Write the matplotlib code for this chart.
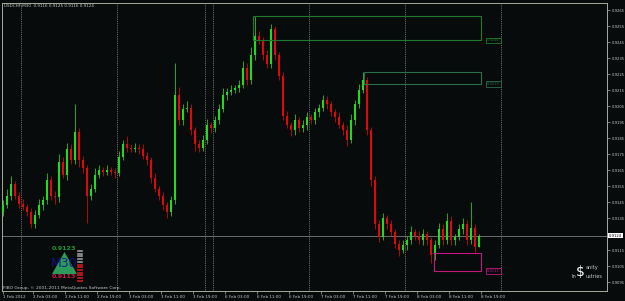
"""USDCHF M30 candle chart, MetaTrader look."""
import numpy as np
import matplotlib
matplotlib.use("Agg")
import matplotlib.pyplot as plt
from matplotlib.patches import Rectangle, Polygon

plt.rcParams.update({"font.family": "DejaVu Sans", "font.size": 3})

W, H = 625, 301
BG = "#070b0b"
BULL = "#1fdc1f"
BEAR = "#e00808"
FRAME = "#a8a8a0"
TXT = "#c8c8c8"
PIP = 0.0001

HEADER = "USDCHF,M30  0.9116 0.9125 0.9116 0.9124"
COPYRIGHT = "FIBO Group, \u00a9 2001-2011 MetaQuotes Software Corp."

# hourly candles (1 Feb 19:00 -> 8 Feb 19:00)
FIRST_OPEN = 0.9139
CLOSES = [
    0.9143, 0.9149, 0.9156, 0.9149, 0.9144, 0.9142, 0.9139, 0.9131, 0.9137, 0.9143,
    0.9146, 0.9159, 0.9149, 0.9148, 0.9170, 0.9162, 0.9178, 0.9171, 0.9189, 0.9171,
    0.9166, 0.9149, 0.9153, 0.9162, 0.9165, 0.9164, 0.9165, 0.9164, 0.9163, 0.9173,
    0.9181, 0.9179, 0.9178, 0.9179, 0.9178, 0.9174, 0.9171, 0.9160, 0.9153, 0.9149,
    0.9143, 0.9139, 0.9146, 0.9212, 0.9196, 0.9203, 0.9204, 0.9190, 0.9181, 0.9179,
    0.9184, 0.9193, 0.9191, 0.9196, 0.9203, 0.9212, 0.9214, 0.9215, 0.9216, 0.9218,
    0.9229, 0.9221, 0.9237, 0.9249, 0.9246, 0.9237, 0.9231, 0.9253, 0.9237, 0.9224,
    0.9199, 0.9193, 0.9190, 0.9196, 0.9191, 0.9193, 0.9198, 0.9196, 0.9201, 0.9204,
    0.9209, 0.9206, 0.9201, 0.9198, 0.9193, 0.9190, 0.9184, 0.9196, 0.9206, 0.9215,
    0.9221, 0.9190, 0.9159, 0.9131, 0.9123, 0.9135, 0.9131, 0.9126, 0.9119, 0.9115,
    0.9118, 0.9121, 0.9126, 0.9124, 0.9121, 0.9125, 0.9121, 0.9112, 0.9118, 0.9128,
    0.9121, 0.9133, 0.9121, 0.9123, 0.9128, 0.9131, 0.9121, 0.9129, 0.9117, 0.9124,
]
WICK_UP = [
    3, 4, 5, 2, 2, 3, 2, 2, 3, 4,
    3, 4, 2, 3, 5, 3, 4, 3, 17, 2,
    3, 2, 3, 4, 3, 2, 3, 2, 2, 4,
    3, 5, 2, 3, 2, 3, 2, 2, 3, 2,
    2, 2, 3, 20, 5, 3, 4, 2, 2, 3,
    3, 4, 2, 3, 3, 4, 2, 3, 2, 3,
    4, 3, 5, 12, 3, 2, 3, 3, 2, 2,
    2, 3, 2, 4, 2, 3, 3, 2, 3, 2,
    3, 2, 2, 2, 3, 2, 3, 4, 3, 4,
    5, 2, 2, 2, 3, 3, 2, 3, 2, 2,
    3, 3, 4, 2, 3, 3, 2, 2, 3, 4,
    3, 5, 3, 2, 3, 4, 3, 16, 2, 1,
]
WICK_DN = [
    3, 2, 3, 2, 3, 2, 3, 2, 2, 2,
    3, 2, 3, 4, 3, 2, 3, 2, 2, 4,
    3, 17, 3, 2, 2, 3, 2, 2, 3, 2,
    2, 3, 2, 2, 3, 2, 3, 3, 2, 3,
    3, 4, 3, 2, 3, 3, 2, 3, 4, 3,
    2, 3, 3, 2, 2, 2, 3, 2, 2, 2,
    2, 3, 2, 3, 2, 3, 2, 2, 3, 3,
    3, 2, 4, 3, 2, 2, 3, 2, 2, 3,
    2, 3, 2, 3, 2, 3, 4, 2, 3, 2,
    2, 3, 4, 3, 3, 2, 3, 2, 3, 4,
    2, 3, 2, 3, 2, 3, 3, 5, 3, 2,
    3, 2, 3, 3, 2, 3, 3, 2, 3, 0,
]

# time axis (bar index = hours from first bar, weekend removed)
TICK_POS = [0, 7.5, 15.5, 23.5, 31.5, 39.5, 47.5, 55.5, 63.5, 71.5, 79.5, 87.5,
            95.5, 103.5, 111.5, 119.5]
TICK_LABELS = ["1 Feb 2012", "2 Feb 03:00", "2 Feb 11:00", "2 Feb 19:00",
               "3 Feb 03:00", "3 Feb 11:00", "3 Feb 19:00", "6 Feb 03:00",
               "6 Feb 11:00", "6 Feb 19:00", "7 Feb 03:00", "7 Feb 11:00",
               "7 Feb 19:00", "8 Feb 03:00", "8 Feb 11:00", "8 Feb 19:00"]
SEPARATORS = [4.5, 28.5, 50.5, 52.5, 76.5, 100.5, 124.5]

# supply / demand boxes
ZONE_START = [62.5, 90.25, 107.75]
ZONE_END = [119.5, 119.5, 119.5]
ZONE_TOP = [0.9261, 0.9226, 0.9113]
ZONE_BOT = [0.9246, 0.9219, 0.9102]
ZONE_LABEL = ["0.9246", "0.9219", "0.9113"]
ZONE_COLOR = ["#1d7a2a", "#2a6e4a", "#c0187c"]

PRICE_TICKS = [0.9095, 0.9105, 0.9115, 0.9135, 0.9145, 0.9155, 0.9165, 0.9175,
               0.9185, 0.9195, 0.9205, 0.9215, 0.9225, 0.9235, 0.9245, 0.9255, 0.9265]

# indicator badge values
BADGE_HI = "0.9123"
BADGE_LO = "0.9113"


def px(x, y):
    return x / W, 1 - y / H


def draw_candles(ax):
    c = np.array(CLOSES)
    o = np.concatenate([[FIRST_OPEN], c[:-1]])
    hi = np.maximum(o, c) + np.array(WICK_UP) * PIP
    lo = np.minimum(o, c) - np.array(WICK_DN) * PIP
    x = np.arange(len(c))
    up = c >= o
    col = np.where(up, BULL, BEAR)
    ax.vlines(x, lo, hi, colors=col, lw=0.55, zorder=3)
    body = np.maximum(np.abs(c - o), 0.4 * PIP)
    ax.bar(x, body, bottom=np.minimum(o, c), width=0.55, color=col, lw=0, zorder=4)


def main():
    fig = plt.figure(figsize=(W / 100, H / 100), dpi=100, facecolor=BG)
    ax = fig.add_axes([2 / W, 10 / H, 605 / W, 288 / H], facecolor=BG)

    for s in SEPARATORS:
        ax.axvline(s, color="#8c8c8c", lw=0.6, ls=(0, (1, 1.2)), zorder=1)

    draw_candles(ax)
    last = CLOSES[-1]
    ax.axhline(last, color="#7c7c7c", lw=0.6, zorder=2)

    for x0, x1, t, b, colr, lab in zip(ZONE_START, ZONE_END, ZONE_TOP, ZONE_BOT,
                                      ZONE_COLOR, ZONE_LABEL):
        ax.add_patch(Rectangle((x0, b), x1 - x0, t - b, fill=False, ec=colr, lw=0.8, zorder=5))
        ax.text(121, b, lab, color=colr, fontsize=2.6, ha="left", va="center", zorder=6,
                bbox=dict(boxstyle="square,pad=0.25", fc=BG, ec=colr, lw=0.6))

    ax.set_xlim(-0.25, 151)
    ax.set_ylim(0.90894, 0.92694)

    ax.yaxis.tick_right()
    ax.set_yticks(PRICE_TICKS)
    ax.set_yticklabels([f"{p:.4f}" for p in PRICE_TICKS])
    ax.tick_params(axis="y", length=2, width=0.5, colors=FRAME, labelcolor=TXT,
                   labelsize=2.7, pad=1.2)
    ax.set_xticks(TICK_POS)
    ax.set_xticklabels(TICK_LABELS)
    ax.tick_params(axis="x", length=2, width=0.5, colors=FRAME, labelcolor=TXT,
                   labelsize=3.0, pad=0.8)
    plt.setp(ax.get_xticklabels(), ha="left")
    for sp in ax.spines.values():
        sp.set_color(FRAME)
        sp.set_linewidth(0.7)

    # current price tag on the scale
    ax.text(1.003, last, f"{last:.4f}", transform=ax.get_yaxis_transform(),
            fontsize=2.7, color="black", ha="left", va="center",
            bbox=dict(boxstyle="square,pad=0.2", fc="white", ec="white", lw=0))

    fig.text(*px(4, 6), HEADER, color=TXT, fontsize=3.0, ha="left", va="center")
    fig.text(*px(3, 288), COPYRIGHT, color=TXT, fontsize=3.2, ha="left", va="center")

    # indicator badge
    fig.patches.append(Polygon([px(52, 274), px(77, 274), px(64.5, 252)], closed=True,
                               fc="#2e9a5a", ec="none", transform=fig.transFigure))
    fig.text(*px(64.5, 263.5), "M30", color="#14148c", fontsize=9, ha="center",
             va="center", alpha=0.9)
    fig.text(*px(64, 249), BADGE_HI, color="#1c9a2c", fontsize=4.6, weight="bold",
             ha="center", va="center")
    fig.text(*px(64, 277), BADGE_LO, color="#d01848", fontsize=4.6, weight="bold",
             ha="center", va="center")
    for k in range(12):
        yy = 251 + k * 2.7
        x0, y0 = px(78, yy)
        x1, _ = px(82, yy)
        fig.add_artist(plt.Line2D([x0, x1], [y0, y0], color="#9a9a9a" if k < 5 else "#d01818",
                                  lw=1.2, transform=fig.transFigure))

    # watermark: big $ stands in for the S of Sanity and the d of Industries
    fig.text(*px(580.5, 272), "$", color="white", fontsize=10, ha="center", va="center")
    fig.text(*px(585.5, 268), "anity", color=TXT, fontsize=3.6, ha="left", va="center")
    fig.text(*px(576, 277), "In", color=TXT, fontsize=3.6, ha="right", va="center")
    fig.text(*px(585.5, 277), "ustries", color=TXT, fontsize=3.6, ha="left", va="center")

    fig.savefig("out.png", dpi=100, facecolor=BG)


if __name__ == "__main__":
    main()
